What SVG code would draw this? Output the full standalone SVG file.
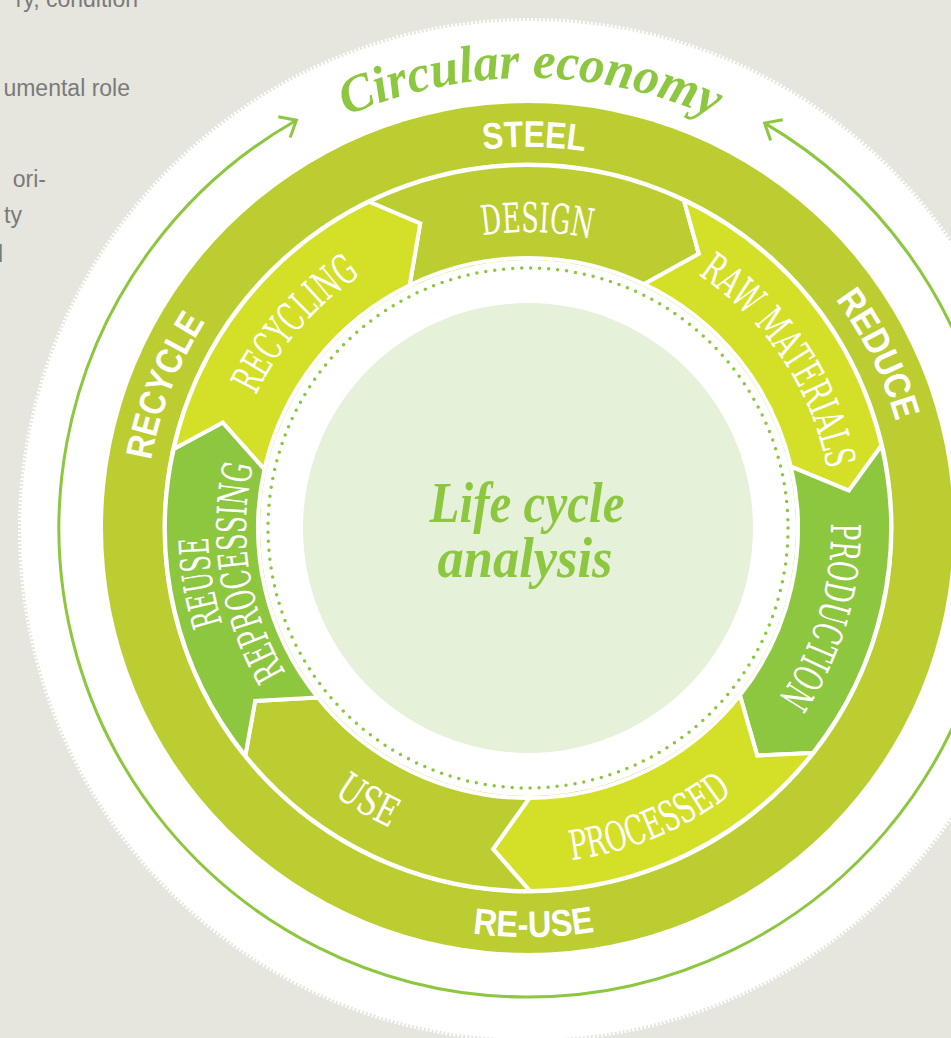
<svg xmlns="http://www.w3.org/2000/svg" width="951" height="1038" viewBox="0 0 951 1038">
<defs>
<style>
.band{font-family:"Liberation Sans",Arial,sans-serif;font-weight:bold;font-size:37px;fill:#fff}
.lbl{font-family:"DejaVu Serif Condensed","DejaVu Serif",serif;font-stretch:condensed;fill:#fff;font-size:41px}
.seg{stroke:#fff;stroke-width:4;stroke-linejoin:miter}
.olive{fill:#bccd31}
.yel{fill:#d4e028}
.grn{fill:#8dc63f}
.script{font-family:"Liberation Serif","Times New Roman",serif;font-style:italic;font-weight:bold;fill:#8dc63f}
.side{font-family:"Liberation Sans",Arial,sans-serif;font-size:23px;fill:#7a7a7a}
</style>
<marker id="chev" markerUnits="userSpaceOnUse" markerWidth="40" markerHeight="40" viewBox="-20 -20 40 40" refX="0" refY="0" orient="auto-start-reverse">
<path d="M-14,-12 L0,0 L-14,12" fill="none" stroke="#8dc63f" stroke-width="3"/>
</marker>
<path id="pCirc" d="M85.25,447.54 A450,450 0 0 1 971.57,452.18"/>
<path id="pSteel" d="M153.87,455.95 A381,381 0 0 1 904.2,467.74"/>
<path id="pRecycle" d="M328.45,854.91 A383,383 0 0 1 603.7,152.56"/>
<path id="pReduce" d="M419.86,160.58 A383,383 0 0 1 755.35,836.21"/>
<path id="pReuse" d="M126.24,604.64 A409,409 0 0 0 931.74,593.39"/>
<path id="pDesign" d="M238.15,467.97 A296,296 0 0 1 820.9,485.27"/>
<path id="pRaw" d="M405.89,248.51 A305,305 0 0 1 738.33,748.87"/>
<path id="pProd" d="M664.14,257.31 A303,303 0 0 1 492.65,828.93"/>
<path id="pProc" d="M245.78,708.49 A335,335 0 0 0 854.93,454.92"/>
<path id="pUse" d="M218.7,412.97 A330,330 0 0 0 779.31,741.88"/>
<path id="pReuse1" d="M525.21,847.99 A320,320 0 0 1 421.18,226.36"/>
<path id="pReproc" d="M523.08,809.96 A282,282 0 0 1 436.19,261.36"/>
<path id="pRecyc" d="M291.74,717.65 A303,303 0 0 1 684.96,268.83"/>
</defs>

<rect width="951" height="1038" fill="#e6e6df"/>

<g id="side-text" class="side">
<text x="138" y="7" text-anchor="end">ry, condition</text>
<text x="130" y="96" text-anchor="end">umental role</text>
<text x="46" y="187" text-anchor="end">ori-</text>
<text x="22" y="223" text-anchor="end">ty</text>
<text x="3" y="262" text-anchor="end">l</text>
</g>

<g id="backdrop">
<circle cx="530" cy="530" r="509" fill="#fff"/>
<circle cx="530" cy="530" r="510" fill="none" stroke="#fff" stroke-width="4" stroke-dasharray="2 2"/>
</g>

<g id="connectors">
<path d="M764.6,123.1 A469,469 0 1 1 296.4,120.2" fill="none" stroke="#8dc63f" stroke-width="3" marker-start="url(#chev)" marker-end="url(#chev)"/>
</g>

<g id="title">
<text class="script" font-size="52"><textPath href="#pCirc" startOffset="50%" text-anchor="middle" textLength="378" lengthAdjust="spacingAndGlyphs">Circular economy</textPath></text>
</g>

<g id="steel-ring">
<circle cx="528" cy="528" r="425" fill="#bccd31"/>
<circle cx="528" cy="528" r="364" fill="none" stroke="#fff" stroke-width="3"/>
<text class="band"><textPath href="#pSteel" startOffset="50%" text-anchor="middle" textLength="102" lengthAdjust="spacingAndGlyphs">STEEL</textPath></text>
<text class="band"><textPath href="#pRecycle" startOffset="50%" text-anchor="middle" textLength="150" lengthAdjust="spacingAndGlyphs">RECYCLE</textPath></text>
<text class="band"><textPath href="#pReduce" startOffset="50%" text-anchor="middle" textLength="137" lengthAdjust="spacingAndGlyphs">REDUCE</textPath></text>
<text class="band"><textPath href="#pReuse" startOffset="50%" text-anchor="middle" textLength="123" lengthAdjust="spacingAndGlyphs">RE-USE</textPath></text>
</g>

<g id="seg-design">
<path class="seg olive" d="M368.87,201.74 A363,363 0 0 1 683.88,200.17 L698.83,253.87 L643.94,284.16 A270,270 0 0 0 409.64,285.33 L420.18,223.53 Z"/>
<text class="lbl" font-size="46"><textPath href="#pDesign" startOffset="50%" text-anchor="middle" textLength="109" lengthAdjust="spacingAndGlyphs">DESIGN</textPath></text>
</g>
<g id="seg-raw">
<path class="seg yel" d="M683.88,200.17 A363,363 0 0 1 881.5,445.48 L848.83,490.65 L790.93,466.62 A270,270 0 0 0 643.94,284.16 L698.83,253.87 Z"/>
<text class="lbl"><textPath href="#pRaw" startOffset="50%" text-anchor="middle" textLength="240" lengthAdjust="spacingAndGlyphs">RAW MATERIALS</textPath></text>
</g>
<g id="seg-production">
<path class="seg grn" d="M881.5,445.48 A363,363 0 0 1 812.92,752.93 L757.23,755.56 L739.92,695.31 A270,270 0 0 0 790.93,466.62 L848.83,490.65 Z"/>
<text class="lbl"><textPath href="#pProd" startOffset="50%" text-anchor="middle" textLength="186" lengthAdjust="spacingAndGlyphs">PRODUCTION</textPath></text>
</g>
<g id="seg-processed">
<path class="seg yel" d="M812.92,752.93 A363,363 0 0 1 529.84,891 L493.06,849.1 L529.37,798 A270,270 0 0 0 739.92,695.31 L757.23,755.56 Z"/>
<text class="lbl"><textPath href="#pProc" startOffset="50%" text-anchor="middle" textLength="177" lengthAdjust="spacingAndGlyphs">PROCESSED</textPath></text>
</g>
<g id="seg-use">
<path class="seg olive" d="M529.84,891 A363,363 0 0 1 245.34,755.75 L255.16,700.89 L317.75,697.4 A270,270 0 0 0 529.37,798 L493.06,849.1 Z"/>
<text class="lbl" font-size="40"><textPath href="#pUse" startOffset="50%" text-anchor="middle" textLength="66" lengthAdjust="spacingAndGlyphs">USE</textPath></text>
</g>
<g id="seg-reuse">
<path class="seg grn" d="M245.34,755.75 A363,363 0 0 1 173.7,449 L222.73,422.47 L264.47,469.24 A270,270 0 0 0 317.75,697.4 L255.16,700.89 Z"/>
<text class="lbl" font-size="27"><textPath href="#pReuse1" startOffset="50%" text-anchor="middle" textLength="88" lengthAdjust="spacingAndGlyphs">REUSE</textPath></text>
<text class="lbl" font-size="37"><textPath href="#pReproc" startOffset="50%" text-anchor="middle" textLength="215" lengthAdjust="spacingAndGlyphs">REPROCESSING</textPath></text>
</g>
<g id="seg-recycling">
<path class="seg yel" d="M173.7,449 A363,363 0 0 1 368.87,201.74 L420.18,223.53 L409.64,285.33 A270,270 0 0 0 264.47,469.24 L222.73,422.47 Z"/>
<text class="lbl"><textPath href="#pRecyc" startOffset="50%" text-anchor="middle" textLength="161" lengthAdjust="spacingAndGlyphs">RECYCLING</textPath></text>
</g>

<g id="center">
<circle cx="528" cy="528" r="268" fill="#fff"/>
<circle cx="528" cy="528" r="260" fill="none" stroke="#8dc63f" stroke-width="3.5" stroke-linecap="round" stroke-dasharray="0 9.025"/>
<circle cx="528" cy="528" r="225" fill="#e6f1d9"/>
<text class="script" font-size="56" x="527" y="522" text-anchor="middle" textLength="195" lengthAdjust="spacingAndGlyphs">Life cycle</text>
<text class="script" font-size="56" x="525" y="577" text-anchor="middle" textLength="175" lengthAdjust="spacingAndGlyphs">analysis</text>
</g>
</svg>
